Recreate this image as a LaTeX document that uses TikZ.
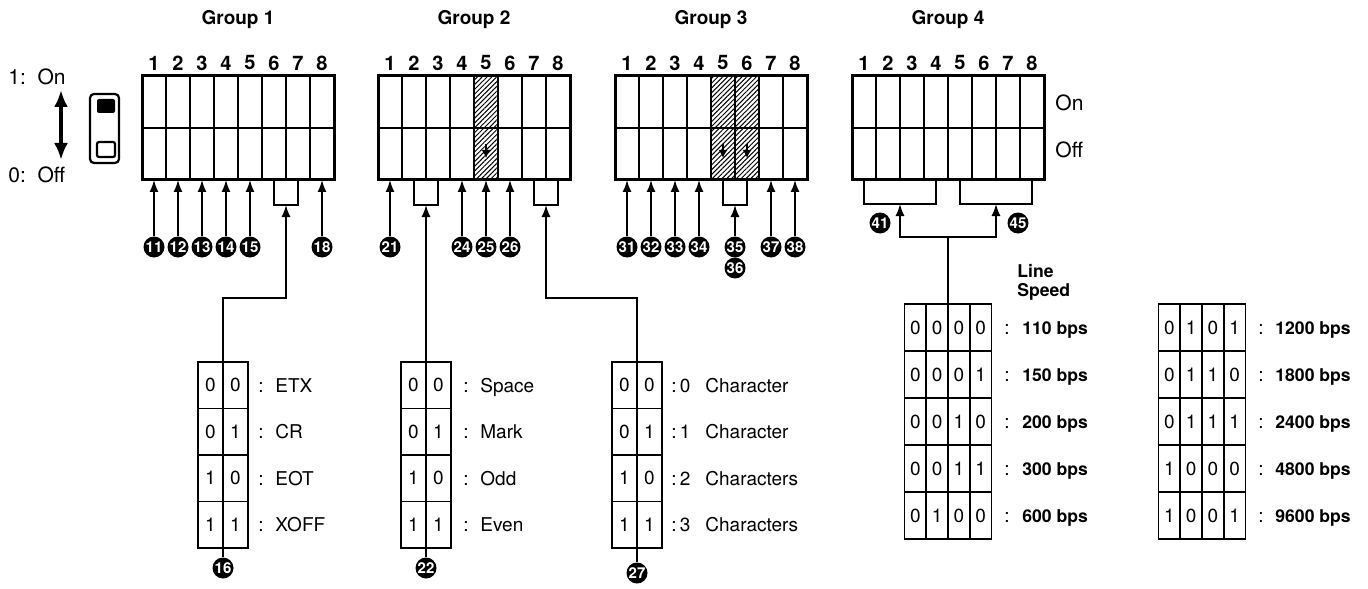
\documentclass[tikz,border=0pt]{standalone}
\usepackage{fontspec}
\setmainfont{TeX Gyre Heros}
\usetikzlibrary{arrows.meta,patterns.meta,calc}

\begin{document}
\begin{tikzpicture}[x=0.5pt, y=-0.5pt,
    every node/.style={inner sep=0pt, font=\fontsize{9.5}{11}\selectfont},
    heading/.style={font=\fontsize{9.5}{11}\selectfont\bfseries},
    legend/.style={anchor=west, font=\fontsize{10.5}{12}\selectfont},
    swnum/.style={font=\fontsize{10}{11}\selectfont\bfseries},
    bit/.style={font=\fontsize{9.5}{10}\selectfont},
    lbl/.style={anchor=west, text height=7pt, text depth=0pt},
    speed/.style={lbl, font=\fontsize{8.8}{10}\selectfont\bfseries},
    ref/.style={circle, fill=black, text=white, minimum size=10.5pt,
        font=\fontsize{7.5}{7.5}\selectfont\bfseries},
    block/.style={line width=1.5pt},
    cell/.style={line width=0.9pt},
    conn/.style={line width=0.75pt},
    up/.style={conn, -{Latex[length=6pt,width=4.5pt]}},
    hatch/.style={pattern={Lines[angle=45, distance=1.7pt, line width=0.5pt]}},
    pair/.style={draw, cell, minimum width=25pt, minimum height=93pt},
    quad/.style={draw, cell, minimum width=43.5pt, minimum height=117.5pt}]

  \useasboundingbox (0,0) rectangle (1368,588);

  % Legend: switch positions
  \node[legend] (lon) at (8,77) {1:\ \ On};
  \node[legend] (loff) at (8,175) {0:\ \ Off};
  \coordinate (lup) at (61,90);
  \coordinate (ldown) at (61,160);
  \draw[line width=2.2pt, {Latex[length=8.5pt,width=7pt]}-{Latex[length=8.5pt,width=7pt]}] (lup) -- (ldown);
  \draw[line width=1.1pt, rounded corners=2pt] (90,94) rectangle (119,163);
  \fill[rounded corners=1pt] (97,99) rectangle (115,113);
  \draw[line width=1.1pt, rounded corners=1pt] (97,142) rectangle (115,157);

  % Hatched (fixed) switches
  \fill[hatch] (474,76) rectangle (498,180);
  \fill[hatch] (711,76) rectangle (759,180);
  \foreach \x in {486, 723, 747}
    \draw[line width=1.4pt, -{Latex[length=4pt,width=4.5pt]}] (\x,144) -- (\x,158);

  % Switch blocks
  \foreach \g/\x in {1/142, 2/378, 3/615, 4/852} {
    \node[heading] at (\x+96,20) {Group \g};
    \foreach \c in {1,...,8} {
      \node[swnum] at (\x+24*\c-12,63) {\c};
      \coordinate (g\g-\c) at (\x+24*\c-12,180);
    }
    \foreach \c in {1,...,7}
      \draw[cell] (\x+24*\c,76) -- (\x+24*\c,180);
    \draw[cell] (\x,128) -- (\x+192,128);
    \draw[block] (\x,76) rectangle (\x+192,180);
  }
  \node[legend] (on) at (1055,103) {On};
  \node[legend] (off) at (1055,150) {Off};

  % Single switches
  \foreach \g/\c/\n in {1/1/11, 1/2/12, 1/3/13, 1/4/14, 1/5/15, 1/8/18,
                        2/1/21, 2/4/24, 2/5/25, 2/6/26,
                        3/1/31, 3/2/32, 3/3/33, 3/4/34, 3/7/37, 3/8/38} {
    \node[ref] (r\n) at ($(g\g-\c)+(0,67)$) {\n};
    \draw[up] (r\n) -- (g\g-\c);
  }

  % Brackets under switch pairs
  \foreach \g/\a/\b/\n/\d in {1/6/7/16/25, 2/2/3/22/25, 2/7/8/27/25,
                              3/5/6/35/25, 4/1/4/41/24, 4/5/8/45/24} {
    \draw[conn] (g\g-\a) -- ++(0,\d) -| (g\g-\b);
    \coordinate (p\n) at ($(g\g-\a)!0.5!(g\g-\b)+(0,\d)$);
  }
  \node[ref] (r35) at ($(p35)+(0,42)$) {35};
  \node[ref] (r36) at ($(r35)+(0,21)$) {36};
  \draw[up] (r35) -- (p35);
  \node[ref] (r41) at (880,223) {41};
  \node[ref] (r45) at (1018,223) {45};

  % Code tables for paired switches
  \node[pair] (t16) at (223,455) {};
  \node[pair] (t22) at (426,455) {};
  \node[pair] (t27) at (637,455) {};
  \foreach \l in {198, 401, 612}
    \foreach \i in {1,2,3}
      \draw[cell] (\l,362+46.5*\i) -- (\l+50,362+46.5*\i);
  \node[ref] (r16) at (223,568) {16};
  \node[ref] (r22) at (426,568) {22};
  \node[ref] (r27) at (637,573) {27};
  \draw[conn] (t16.north) -- (r16);
  \draw[conn] (t22.north) -- (r22);
  \draw[conn] (t27.north) -- (r27);
  \draw[up] (t16.north) |- ($(p16)+(0,93)$) -- (p16);
  \draw[up] (t22.north) -- (p22);
  \draw[up] (t27.north) |- ($(p27)+(0,93)$) -- (p27);

  \foreach \i/\a/\b/\txt in {0/0/0/ETX, 1/0/1/CR, 2/1/0/EOT, 3/1/1/XOFF} {
    \node[bit] at (210.5,385.25+46.5*\i) {\a};
    \node[bit] at (235.5,385.25+46.5*\i) {\b};
    \node[lbl] at (258,385.25+46.5*\i) {:};
    \node[lbl] at (275,385.25+46.5*\i) {\txt};
  }
  \foreach \i/\a/\b/\txt in {0/0/0/Space, 1/0/1/Mark, 2/1/0/Odd, 3/1/1/Even} {
    \node[bit] at (413.5,385.25+46.5*\i) {\a};
    \node[bit] at (438.5,385.25+46.5*\i) {\b};
    \node[lbl] at (463,385.25+46.5*\i) {:};
    \node[lbl] at (480,385.25+46.5*\i) {\txt};
  }
  \foreach \i/\a/\b/\txt in {0/0/0/Character, 1/0/1/Character, 2/1/0/Characters, 3/1/1/Characters} {
    \node[bit] at (624.5,385.25+46.5*\i) {\a};
    \node[bit] at (649.5,385.25+46.5*\i) {\b};
    \node[lbl] at (671,385.25+46.5*\i) {:\,\i};
    \node[lbl] at (705,385.25+46.5*\i) {\txt};
  }

  % Line speed tables
  \node[heading, align=left, anchor=west, font=\fontsize{8.8}{9.5}\selectfont\bfseries] at (1017,282) {Line\\Speed};
  \node[quad] (s1) at (948,421.5) {};
  \node[quad] (s2) at (1202,421.5) {};
  \foreach \l in {904.5, 1158.5} {
    \foreach \j in {1,2,3}
      \draw[cell] (\l+21.75*\j,304) -- (\l+21.75*\j,539);
    \foreach \i in {1,...,4}
      \draw[cell] (\l,304+47*\i) -- (\l+87,304+47*\i);
  }
  \draw[up] (s1.north) |- ($(p41)+(0,33)$) -- (p41);
  \draw[up] (s1.north) |- ($(p45)+(0,33)$) -- (p45);

  \foreach \i/\a/\b/\c/\d/\v in {0/0/0/0/0/110, 1/0/0/0/1/150, 2/0/0/1/0/200,
                                 3/0/0/1/1/300, 4/0/1/0/0/600} {
    \foreach \j/\val in {0/\a, 1/\b, 2/\c, 3/\d}
      \node[bit] at (915.4+21.75*\j,327.5+47*\i) {\val};
    \node[lbl] at (1004,327.5+47*\i) {:};
    \node[speed] at (1022,327.5+47*\i) {\v\ bps};
  }
  \foreach \i/\a/\b/\c/\d/\v in {0/0/1/0/1/1200, 1/0/1/1/0/1800, 2/0/1/1/1/2400,
                                 3/1/0/0/0/4800, 4/1/0/0/1/9600} {
    \foreach \j/\val in {0/\a, 1/\b, 2/\c, 3/\d}
      \node[bit] at (1169.4+21.75*\j,327.5+47*\i) {\val};
    \node[lbl] at (1258,327.5+47*\i) {:};
    \node[speed] at (1275,327.5+47*\i) {\v\ bps};
  }

\end{tikzpicture}
\end{document}
